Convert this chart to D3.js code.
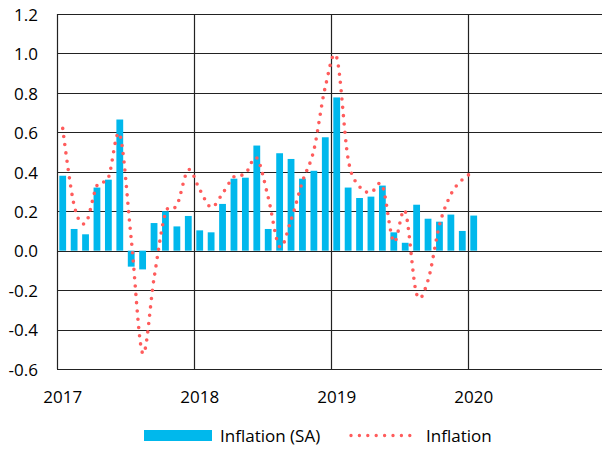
<!DOCTYPE html>
<html><head><meta charset="utf-8">
<script src="https://cdn.jsdelivr.net/npm/d3@7"></script>
<style>body{margin:0;background:#fff}svg{display:block}</style>
</head><body>
<svg id="c" width="602" height="449"></svg>
<script>
const months = d3.range(37); // Jan 2017 .. Jan 2020 (month index)
const yearTicks = [2017, 2018, 2019, 2020];
const yTicks = [-0.6, -0.4, -0.2, 0.0, 0.2, 0.4, 0.6, 0.8, 1.0, 1.2];
const inflationSA = [
  0.38, 0.11, 0.083, 0.32, 0.36, 0.665, -0.081, -0.095, 0.14, 0.20, 0.123, 0.176,
  0.103, 0.093, 0.237, 0.365, 0.37, 0.533, 0.11, 0.494, 0.465, 0.365, 0.405, 0.575,
  0.777, 0.32, 0.267, 0.274, 0.33, 0.093, 0.04, 0.233, 0.162, 0.147, 0.183, 0.10,
  0.178
];
const inflation = [
  0.62, 0.23, 0.14, 0.33, 0.37, 0.59, 0.06, -0.52, -0.14, 0.19, 0.23, 0.41,
  0.31, 0.22, 0.29, 0.375, 0.39, 0.47, 0.27, 0.02, 0.155, 0.35, 0.51, 0.83,
  0.98, 0.465, 0.325, 0.295, 0.33, 0.045, 0.2, -0.22, -0.15, 0.13, 0.285, 0.36,
  0.40
];
const seriesNames = ["Inflation (SA)", "Inflation"];

const svg = d3.select("#c");
const font = "'Open Sans', sans-serif";
const L = 57, R = 605, T = 14, B = 369;
const x = d3.scaleLinear().domain([0, 48]).range([L, R]);
const y = d3.scaleLinear().domain([-0.6, 1.2]).range([B, T]);
const bw = 6.8;
const barColor = "#00B8EC", lineColor = "#FF5C5C", gridColor = "#222";

// horizontal grid
svg.append("g").selectAll("line").data(yTicks).join("line")
  .attr("x1", L).attr("x2", 602)
  .attr("y1", d => Math.round(y(d)) + 0.5).attr("y2", d => Math.round(y(d)) + 0.5)
  .attr("stroke", gridColor).attr("stroke-width", 1.2);
// vertical grid at years
svg.append("g").selectAll("line").data(yearTicks).join("line")
  .attr("x1", d => Math.round(x((d - 2017) * 12)) + 0.5).attr("x2", d => Math.round(x((d - 2017) * 12)) + 0.5)
  .attr("y1", T).attr("y2", B)
  .attr("stroke", gridColor).attr("stroke-width", 1.2);

// y labels
svg.append("g").selectAll("text").data(yTicks).join("text")
  .attr("x", 38).attr("y", d => y(d)).attr("dy", "0.4em")
  .attr("text-anchor", "end").attr("font-family", font).attr("font-size", 17).attr("fill", "#000")
  .text(d => d.toFixed(1));
// x labels
svg.append("g").selectAll("text").data(yearTicks).join("text")
  .attr("x", d => x((d - 2017) * 12 + 0.5)).attr("y", 403)
  .attr("text-anchor", "middle").attr("font-family", font).attr("font-size", 17).attr("fill", "#000")
  .text(d => d);

// bars
svg.append("g").selectAll("rect").data(months).join("rect")
  .attr("x", i => x(i + 0.5) - bw / 2).attr("width", bw)
  .attr("y", i => y(Math.max(0, inflationSA[i])))
  .attr("height", i => Math.abs(y(inflationSA[i]) - y(0)))
  .attr("fill", barColor);

// dotted smooth line
const line = d3.line().x(i => x(i + 0.5)).y(i => y(inflation[i])).curve(d3.curveCatmullRom.alpha(0));
svg.append("path").datum(months).attr("d", line)
  .attr("fill", "none").attr("stroke", lineColor).attr("stroke-width", 3.6)
  .attr("stroke-linecap", "round").attr("stroke-dasharray", "0 8.3");

// legend
const lg = svg.append("g").attr("font-family", font).attr("font-size", 17).attr("fill", "#000");
lg.append("rect").attr("x", 144).attr("y", 430).attr("width", 68).attr("height", 11).attr("fill", barColor);
lg.append("text").attr("x", 220).attr("y", 442).text(seriesNames[0]);
lg.append("line").attr("x1", 351).attr("x2", 418).attr("y1", 435.5).attr("y2", 435.5)
  .attr("stroke", lineColor).attr("stroke-width", 3.4).attr("stroke-linecap", "round").attr("stroke-dasharray", "0 8.4");
lg.append("text").attr("x", 426).attr("y", 442).text(seriesNames[1]);
</script>
</body></html>
